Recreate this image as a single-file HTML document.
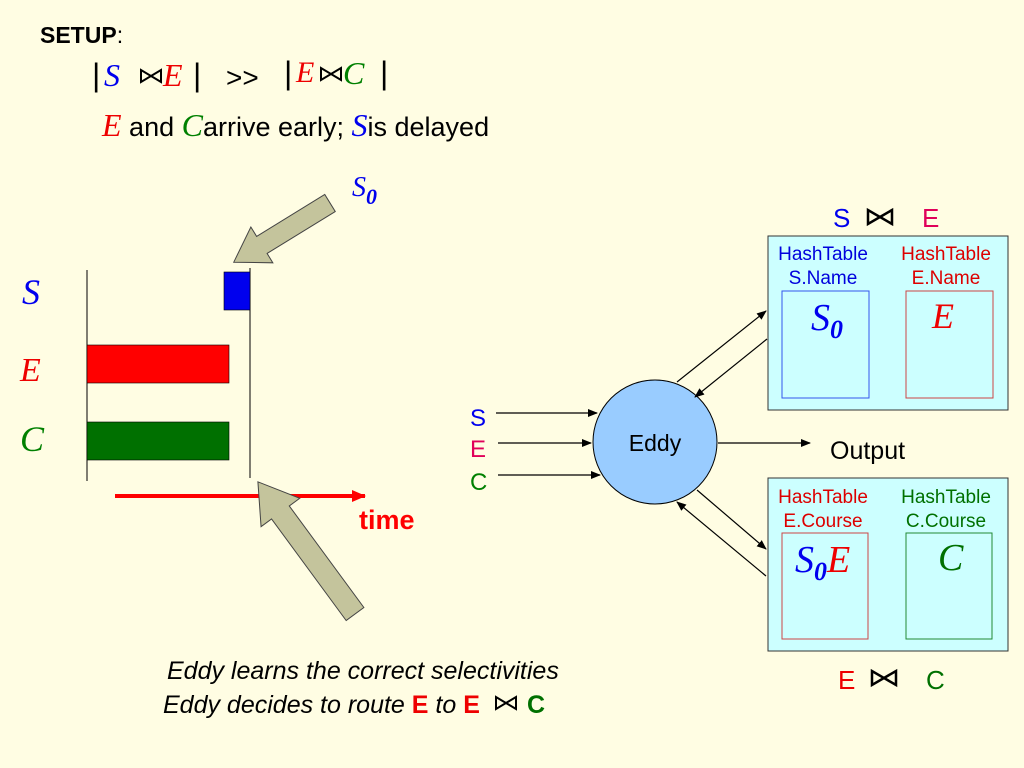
<!DOCTYPE html>
<html><head><meta charset="utf-8"><style>
html,body{margin:0;padding:0;background:#fffde3;}
svg{display:block}
.s{font-family:"Liberation Sans",sans-serif}
.m{font-family:"Liberation Serif",serif;font-style:italic}
</style></head><body>
<svg width="1024" height="768" viewBox="0 0 1024 768" xmlns="http://www.w3.org/2000/svg">
<defs>
<marker id="ah" markerWidth="10" markerHeight="8" refX="9" refY="4" orient="auto" markerUnits="userSpaceOnUse">
<path d="M0,0 L10,4 L0,8 z" fill="#000"/></marker>
<marker id="rh" markerWidth="14" markerHeight="12" refX="13" refY="6" orient="auto" markerUnits="userSpaceOnUse">
<path d="M0,0 L14,6 L0,12 z" fill="#f00"/></marker>
</defs>
<rect width="1024" height="768" fill="#fffde3"/>

<!-- header -->
<text x="40" y="43" class="s" font-size="23" font-weight="bold">SETUP<tspan font-weight="normal">:</tspan></text>
<text x="92" y="86" class="s" font-size="32">|</text>
<text x="104" y="86" class="m" font-size="32" fill="#0000ee">S</text>
<polygon points="141,70 141,82 151,76" fill="none" stroke="#000" stroke-width="2"/>
<polygon points="151,76 161,70 161,82" fill="none" stroke="#000" stroke-width="2"/>
<text x="163" y="86" class="m" font-size="32" fill="#e00">E</text>
<text x="193" y="86" class="s" font-size="32">|</text>
<text x="226" y="87" class="s" font-size="28">&gt;&gt;</text>
<text x="284" y="84" class="s" font-size="32">|</text>
<text x="296" y="82" class="m" font-size="30" fill="#e00">E</text>
<polygon points="321,68 321,80 331,74" fill="none" stroke="#000" stroke-width="2"/>
<polygon points="331,74 341,68 341,80" fill="none" stroke="#000" stroke-width="2"/>
<text x="343" y="84" class="m" font-size="32" fill="#008000">C</text>
<text x="380" y="84" class="s" font-size="32">|</text>
<text x="102" y="136" class="s" font-size="27"><tspan class="m" font-size="32" fill="#e00">E</tspan> and <tspan class="m" font-size="32" fill="#008000">C</tspan>arrive early; <tspan class="m" font-size="32" fill="#0000ee">S</tspan>is delayed</text>

<!-- timeline -->
<text x="22" y="304" class="m" font-size="36" fill="#0000ee">S</text>
<text x="20" y="381" class="m" font-size="34" fill="#e00">E</text>
<text x="20" y="451" class="m" font-size="36" fill="#008000">C</text>
<line x1="87" y1="270" x2="87" y2="481" stroke="#000" stroke-width="1"/>
<line x1="250" y1="268" x2="250" y2="478" stroke="#000" stroke-width="1"/>
<rect x="224" y="272" width="26" height="38" fill="#0000ee" stroke="#000" stroke-width="0.6"/>
<rect x="87" y="345" width="142" height="38" fill="#f00" stroke="#000" stroke-width="0.6"/>
<rect x="87" y="422" width="142" height="38" fill="#007000" stroke="#000" stroke-width="0.6"/>
<line x1="115" y1="496" x2="365" y2="496" stroke="#f00" stroke-width="4" marker-end="url(#rh)"/>
<text x="359" y="529" class="s" font-size="27" font-weight="bold" fill="#f00">time</text>

<text x="352" y="196" class="m" font-size="28" fill="#0000ee">S<tspan font-size="22" dy="8" font-weight="bold">0</tspan></text>

<!-- big arrows -->
<g transform="translate(330,203) rotate(148.4)">
<polygon points="0,-10 80,-10 80,-21 113,0 80,21 80,10 0,10" fill="#c4c49c" stroke="#444" stroke-width="1"/>
</g>
<g transform="translate(355,614) rotate(233.7)">
<polygon points="0,-11 126,-11 126,-24 164,0 126,24 126,11 0,11" fill="#c4c49c" stroke="#444" stroke-width="1"/>
</g>

<!-- bottom text -->
<text x="167" y="679" class="s" font-size="25" font-style="italic">Eddy learns the correct selectivities</text>
<text x="163" y="713" class="s" font-size="25" font-style="italic">Eddy decides to route <tspan font-style="normal" font-weight="bold" fill="#e00">E</tspan> to <tspan font-style="normal" font-weight="bold" fill="#e00">E</tspan></text>
<polygon points="496,697 496,709 506,703" fill="none" stroke="#000" stroke-width="2"/>
<polygon points="506,703 516,697 516,709" fill="none" stroke="#000" stroke-width="2"/>
<text x="527" y="713" class="s" font-size="25" font-weight="bold" fill="#007000">C</text>

<!-- eddy -->
<circle cx="655" cy="442" r="62" fill="#99ccff" stroke="#000" stroke-width="1"/>
<text x="655" y="451" class="s" font-size="23" text-anchor="middle">Eddy</text>
<text x="470" y="426" class="s" font-size="24" fill="#0000ee">S</text>
<text x="470" y="457" class="s" font-size="24" fill="#e0005a">E</text>
<text x="470" y="490" class="s" font-size="24" fill="#008000">C</text>
<line x1="496" y1="413" x2="597" y2="413" stroke="#000" stroke-width="1.2" marker-end="url(#ah)"/>
<line x1="498" y1="443" x2="591" y2="443" stroke="#000" stroke-width="1.2" marker-end="url(#ah)"/>
<line x1="498" y1="475" x2="600" y2="475" stroke="#000" stroke-width="1.2" marker-end="url(#ah)"/>
<line x1="718" y1="443" x2="810" y2="443" stroke="#000" stroke-width="1.2" marker-end="url(#ah)"/>
<text x="830" y="459" class="s" font-size="25">Output</text>
<line x1="677" y1="382" x2="766" y2="311" stroke="#000" stroke-width="1.2" marker-end="url(#ah)"/>
<line x1="767" y1="339" x2="695" y2="397" stroke="#000" stroke-width="1.2" marker-end="url(#ah)"/>
<line x1="697" y1="490" x2="766" y2="549" stroke="#000" stroke-width="1.2" marker-end="url(#ah)"/>
<line x1="766" y1="576" x2="677" y2="502" stroke="#000" stroke-width="1.2" marker-end="url(#ah)"/>

<!-- top hash box -->
<text x="833" y="227" class="s" font-size="26" fill="#0000ee">S</text>
<polygon points="868,210 868,224 880,217" fill="none" stroke="#000" stroke-width="2.5"/>
<polygon points="880,217 892,210 892,224" fill="none" stroke="#000" stroke-width="2.5"/>
<text x="922" y="227" class="s" font-size="26" fill="#e0005a">E</text>
<rect x="768" y="236" width="240" height="174" fill="#ccffff" stroke="#333" stroke-width="1"/>
<text x="823" y="260" class="s" font-size="19" fill="#0000dd" text-anchor="middle">HashTable</text>
<text x="823" y="284" class="s" font-size="19" fill="#0000dd" text-anchor="middle">S.Name</text>
<text x="946" y="260" class="s" font-size="19" fill="#dd0000" text-anchor="middle">HashTable</text>
<text x="946" y="284" class="s" font-size="19" fill="#dd0000" text-anchor="middle">E.Name</text>
<rect x="782" y="291" width="87" height="107" fill="none" stroke="#3355ee" stroke-width="1"/>
<rect x="906" y="291" width="87" height="107" fill="none" stroke="#cc4444" stroke-width="1"/>
<text x="811" y="330" class="m" font-size="38" fill="#0000ee">S<tspan font-size="26" dy="8" font-weight="bold">0</tspan></text>
<text x="932" y="328" class="m" font-size="36" fill="#e00">E</text>

<!-- bottom hash box -->
<rect x="768" y="478" width="240" height="173" fill="#ccffff" stroke="#333" stroke-width="1"/>
<text x="823" y="503" class="s" font-size="19" fill="#dd0000" text-anchor="middle">HashTable</text>
<text x="823" y="527" class="s" font-size="19" fill="#dd0000" text-anchor="middle">E.Course</text>
<text x="946" y="503" class="s" font-size="19" fill="#007000" text-anchor="middle">HashTable</text>
<text x="946" y="527" class="s" font-size="19" fill="#007000" text-anchor="middle">C.Course</text>
<rect x="782" y="533" width="86" height="106" fill="none" stroke="#cc4444" stroke-width="1"/>
<rect x="906" y="533" width="86" height="106" fill="none" stroke="#228833" stroke-width="1"/>
<text x="795" y="572" class="m" font-size="38" fill="#0000ee">S<tspan font-size="26" dy="8" font-weight="bold">0</tspan><tspan dy="-8" fill="#e00">E</tspan></text>
<text x="938" y="570" class="m" font-size="38" fill="#007000">C</text>
<text x="838" y="689" class="s" font-size="26" fill="#e00">E</text>
<polygon points="872,671 872,685 884,678" fill="none" stroke="#000" stroke-width="2.5"/>
<polygon points="884,678 896,671 896,685" fill="none" stroke="#000" stroke-width="2.5"/>
<text x="926" y="689" class="s" font-size="26" fill="#007000">C</text>
</svg>
</body></html>
